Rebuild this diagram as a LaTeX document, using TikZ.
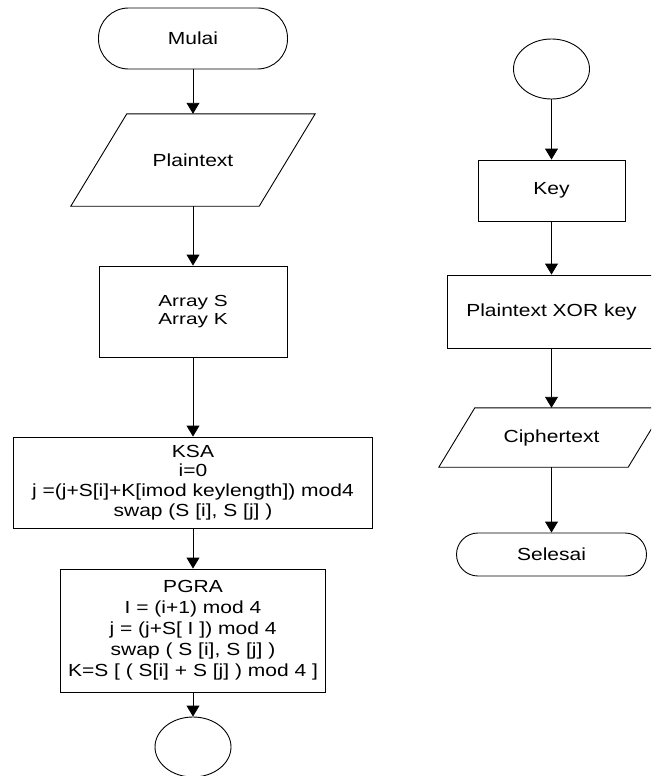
\documentclass[tikz,border=0pt]{standalone}
\usepackage{fontspec}
\setmainfont{Liberation Sans}[FakeStretch=1.2]
\newfontfamily\arrfont{Liberation Sans}[FakeStretch=1.3]
\usetikzlibrary{arrows.meta,shapes.geometric}
\begin{document}
\begin{tikzpicture}[x=1pt,y=-1pt,
  every node/.style={inner sep=0pt, align=center, font=\fontsize{17.5}{20}\selectfont},
  shapeline/.style={line width=0.9pt},
  proc/.style={draw, rectangle, shapeline},
  term/.style={draw, rectangle, rounded corners=#1, shapeline},
  conn/.style={draw, ellipse, minimum width=76, minimum height=60, shapeline},
  io/.style={rectangle},
  flow/.style={-{Triangle[width=13pt,length=11pt]}, line width=0.9pt}]
\useasboundingbox (0,0) rectangle (651,776);
\clip (0,0) rectangle (651,776);
% left column
\node[term=30, minimum width=189, minimum height=61] (mulai) at (193,38.5) {Mulai};
\node[io, minimum width=132, minimum height=92] (plain) at (193,160) {Plaintext};
\draw[shapeline] (plain.north west) -- ([xshift=56pt]plain.north east) -- (plain.south east) -- ([xshift=-56pt]plain.south west) -- cycle;
\node[proc, minimum width=188, minimum height=91, font=\arrfont\fontsize{16}{18.5}\selectfont] (arr) at (193,311.5) {Array S\\Array K};
\node[proc, minimum width=359, minimum height=91, font=\fontsize{17.5}{19.7}\selectfont] (ksa) at (193,482.5) {KSA\\i=0\\j =(j+S[i]+K[imod keylength]) mod4\\swap (S [i], S [j] )};
\node[proc, minimum width=265, minimum height=123, font=\fontsize{17.5}{21}\selectfont] (pgra) at (193,630.5) {PGRA\\I = (i+1) mod 4\\j = (j+S[ I ]) mod 4\\swap ( S [i], S [j] )\\K=S [ ( S[i] + S [j] ) mod 4 ]};
\node[conn] (c1) at (193,747) {};
% right column
\node[conn] (c2) at (551.5,69) {};
\node[proc, minimum width=147, minimum height=61] (key) at (551.5,190.5) {Key};
\node[proc, minimum width=209, minimum height=73] (xor) at (551.5,311.5) {Plaintext XOR key};
\node[io, minimum width=153, minimum height=59] (ciph) at (551.5,437.5) {Ciphertext};
\draw[shapeline] (ciph.north west) -- ([xshift=36pt]ciph.north east) -- (ciph.south east) -- ([xshift=-36pt]ciph.south west) -- cycle;
\node[term=21.5, minimum width=190, minimum height=43] (sel) at (551.5,554.5) {Selesai};
% connectors
\draw[flow] (mulai.south) -- (plain.north);
\draw[flow] (plain.south) -- (arr.north);
\draw[flow] (arr.south) -- (ksa.north);
\draw[flow] (ksa.south) -- (pgra.north);
\draw[flow] (pgra.south) -- (c1.north);
\draw[flow] (c2.south) -- (key.north);
\draw[flow] (key.south) -- (xor.north);
\draw[flow] (xor.south) -- (ciph.north);
\draw[flow] (ciph.south) -- (sel.north);
\end{tikzpicture}
\end{document}
